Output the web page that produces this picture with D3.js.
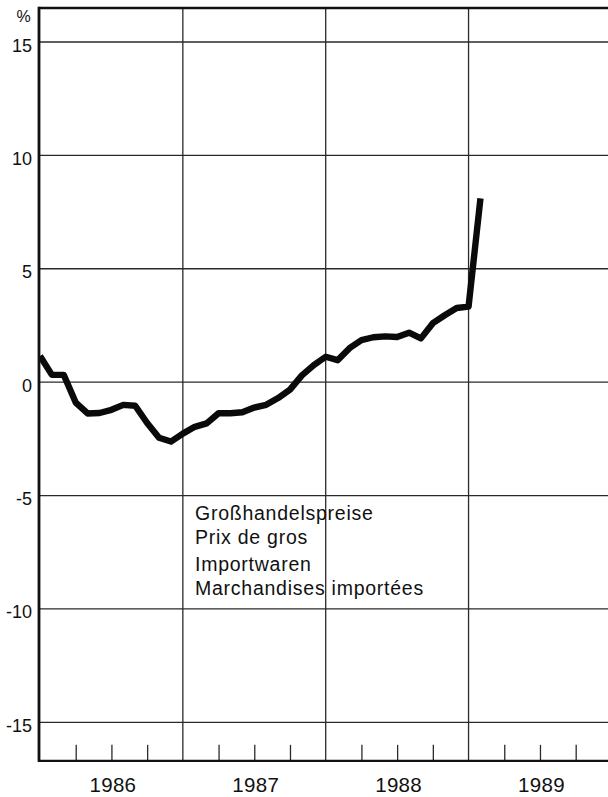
<!DOCTYPE html>
<html>
<head>
<meta charset="utf-8">
<script src="https://cdn.jsdelivr.net/npm/d3@7"></script>
<style>
  html, body { margin: 0; padding: 0; background: #fff; }
  svg { display: block; }
  text { font-family: "Liberation Sans", Arial, Helvetica, sans-serif; fill: #111; }
</style>
</head>
<body>
<svg id="chart" width="608" height="797"></svg>
<script>
// ---- data ----
const months = [
  "1986-01","1986-02","1986-03","1986-04","1986-05","1986-06","1986-07","1986-08","1986-09","1986-10","1986-11","1986-12",
  "1987-01","1987-02","1987-03","1987-04","1987-05","1987-06","1987-07","1987-08","1987-09","1987-10","1987-11","1987-12",
  "1988-01","1988-02","1988-03","1988-04","1988-05","1988-06","1988-07","1988-08","1988-09","1988-10","1988-11","1988-12",
  "1989-01","1989-02"
];
const values = [
  1.15, 0.32, 0.32, -0.9, -1.38, -1.36, -1.22, -1.0, -1.04, -1.8, -2.45, -2.62,
  -2.27, -1.97, -1.82, -1.37, -1.37, -1.33, -1.12, -1.0, -0.7, -0.33, 0.3, 0.75,
  1.12, 0.97, 1.5, 1.85, 1.98, 2.02, 1.99, 2.18, 1.93, 2.6, 2.95, 3.27,
  3.33, 8.1
];
const yTicks = [15, 10, 5, 0, -5, -10, -15];
const yTickLabels = ["15", "10", "5", "0", "-5", "-10", "-15"];
const years = [1986, 1987, 1988, 1989];
const yearLabels = ["1986", "1987", "1988", "1989"];
const legendLines = ["Großhandelspreise", "Prix de gros", "Importwaren", "Marchandises importées"];
const unitLabel = "%";

// ---- layout ----
const W = 608, H = 797;
const plotLeft = 40, xRight = 611.4;
const yTopVal = 16.5, yBotVal = -16.7;
const svg = d3.select("#chart");

const x = d3.scaleLinear().domain([1986, 1990]).range([plotLeft, xRight]);
const y = d3.scaleLinear().domain([-15, 15]).range([722.3, 42]);
const plotTop = y(yTopVal), plotBottom = y(yBotVal);

const toYear = s => { const [yy, mm] = s.split("-").map(Number); return yy + (mm - 1) / 12; };

// horizontal gridlines
svg.append("g").selectAll("line").data(yTicks).join("line")
  .attr("x1", plotLeft).attr("x2", W)
  .attr("y1", d => y(d)).attr("y2", d => y(d))
  .attr("stroke", "#2a2a2a").attr("stroke-width", 1.3);

// vertical year gridlines
svg.append("g").selectAll("line").data(years.slice(1)).join("line")
  .attr("x1", d => x(d)).attr("x2", d => x(d))
  .attr("y1", plotTop).attr("y2", plotBottom)
  .attr("stroke", "#2a2a2a").attr("stroke-width", 1.3);

// quarter ticks via axis
const quarterVals = [];
years.forEach(yr => [0.25, 0.5, 0.75].forEach(q => quarterVals.push(yr + q)));
const qAxis = d3.axisBottom(x).tickValues(quarterVals).tickSizeInner(-16).tickSizeOuter(0).tickFormat("");
const qg = svg.append("g").attr("transform", `translate(0,${plotBottom})`).call(qAxis);
qg.select(".domain").remove();
qg.selectAll(".tick line").attr("stroke", "#2a2a2a").attr("stroke-width", 1.3);

// year labels via axis
const yrAxis = d3.axisBottom(x).tickValues(years.map(d => d + 0.5)).tickSize(0)
  .tickFormat((d, i) => yearLabels[i]);
const yg = svg.append("g").attr("transform", `translate(1,${plotBottom})`).call(yrAxis);
yg.select(".domain").remove();
yg.selectAll(".tick text").attr("y", 31).attr("dy", 0)
  .style("font-size", "20.5px").style("letter-spacing", "0.3px")
  .style("font-family", "'Liberation Sans', Arial, sans-serif").attr("fill", "#111");

// y labels via axis
const yAxis = d3.axisLeft(y).tickValues(yTicks).tickSize(0)
  .tickFormat((d, i) => yTickLabels[i]);
const lg = svg.append("g").attr("transform", `translate(${plotLeft - 8},0)`).call(yAxis);
lg.select(".domain").remove();
lg.selectAll(".tick text").attr("x", 0).attr("dy", 9)
  .style("font-size", "18px").style("font-family", "'Liberation Sans', Arial, sans-serif").attr("fill", "#111");

// unit
svg.append("text").attr("x", 23.5).attr("y", 22).attr("text-anchor", "middle")
  .style("font-size", "16px").text(unitLabel);

// frame: top, left, bottom
svg.append("line").attr("x1", plotLeft - 1).attr("x2", W).attr("y1", plotTop).attr("y2", plotTop)
  .attr("stroke", "#111").attr("stroke-width", 2.6);
svg.append("line").attr("x1", plotLeft - 1).attr("x2", plotLeft - 1).attr("y1", plotTop - 1.3).attr("y2", plotBottom + 1)
  .attr("stroke", "#111").attr("stroke-width", 2.8);
svg.append("line").attr("x1", plotLeft - 2).attr("x2", W).attr("y1", plotBottom).attr("y2", plotBottom)
  .attr("stroke", "#111").attr("stroke-width", 2.4);

// data line
const data = months.map((m, i) => ({ t: toYear(m), v: values[i] }));
svg.append("defs").append("clipPath").attr("id", "plotclip")
  .append("rect").attr("x", plotLeft).attr("y", plotTop).attr("width", W - plotLeft).attr("height", plotBottom - plotTop);
svg.append("path").datum(data)
  .attr("clip-path", "url(#plotclip)")
  .attr("d", d3.line().x(d => x(d.t)).y(d => y(d.v)))
  .attr("fill", "none").attr("stroke", "#0a0a0a").attr("stroke-width", 6.4)
  .attr("stroke-linejoin", "round").attr("stroke-linecap", "butt");

// legend text
svg.append("g").selectAll("text").data(legendLines).join("text")
  .attr("x", 195).attr("y", (d, i) => [520, 544, 571, 595][i])
  .style("font-size", "19.5px").style("letter-spacing", "0.75px")
  .text(d => d);
</script>
</body>
</html>
